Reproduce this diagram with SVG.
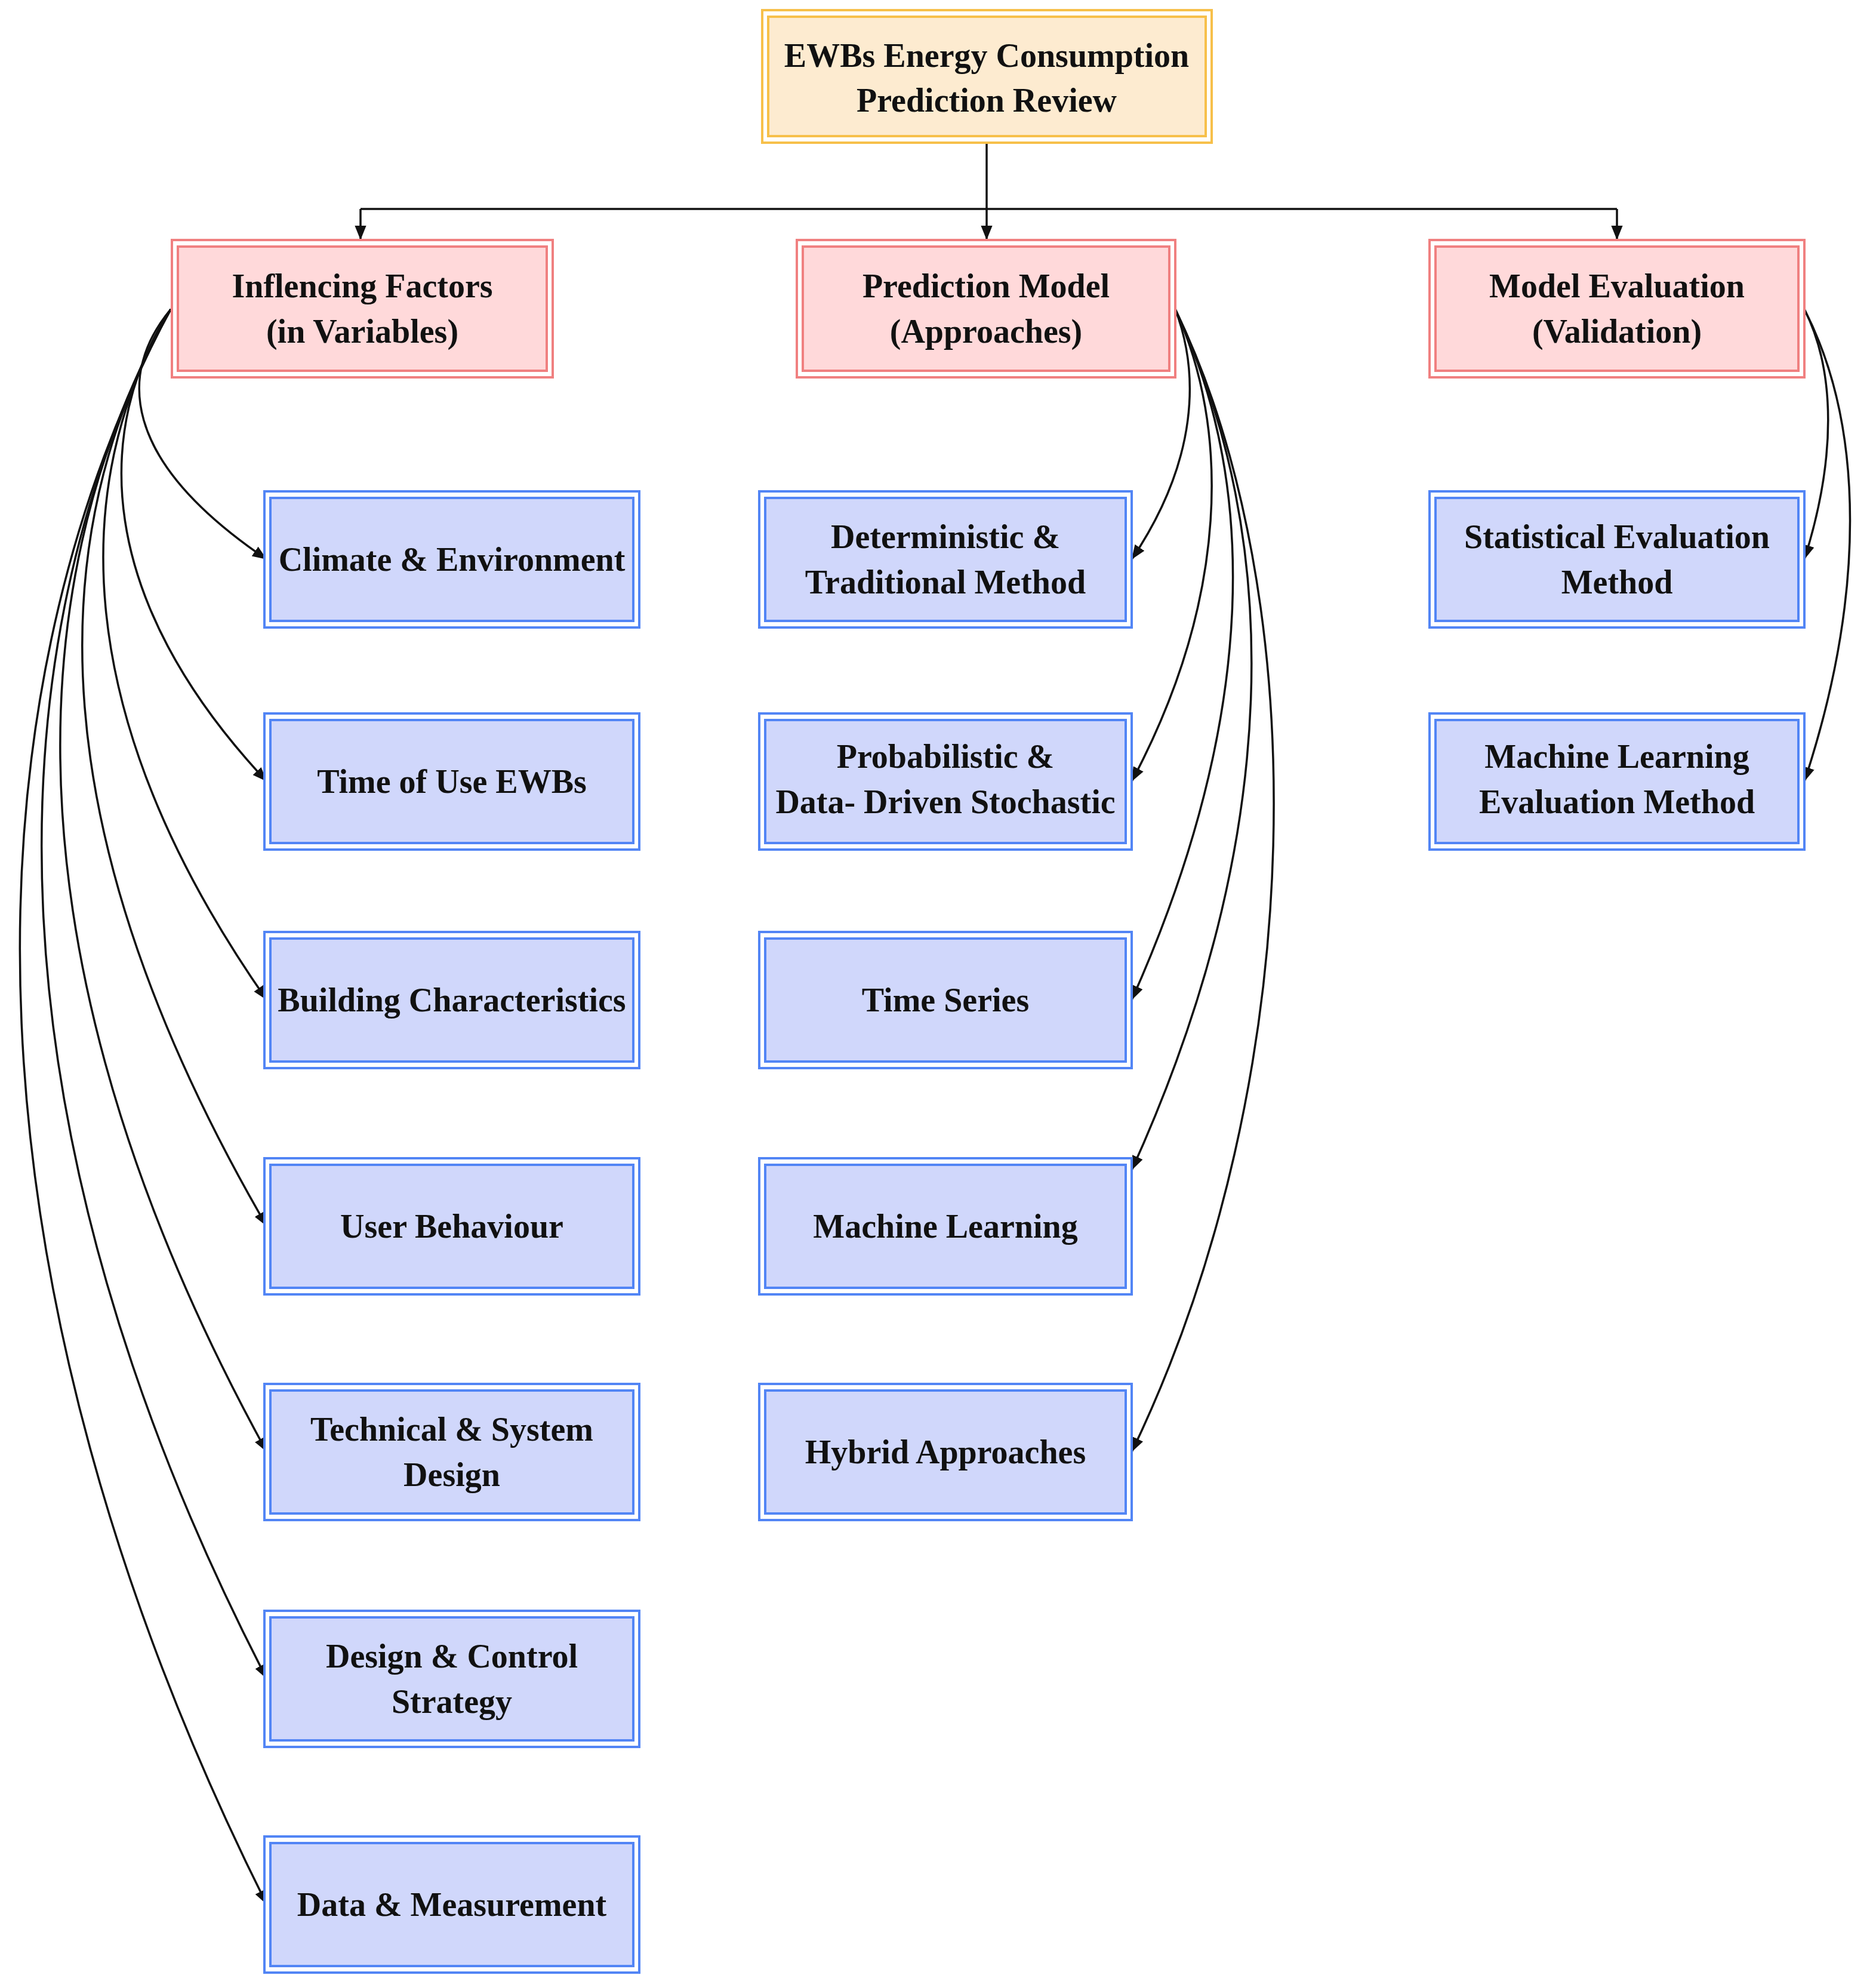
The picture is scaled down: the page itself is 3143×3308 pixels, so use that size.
<svg xmlns="http://www.w3.org/2000/svg" width="3143" height="3308" viewBox="0 0 3143 3308">
<style>
.t{font-family:"Liberation Serif",serif;font-weight:bold;font-size:56px;fill:#111;text-anchor:middle;dominant-baseline:central}
.o{fill:#fff;stroke-width:4}
.i{stroke-width:4}
.y .o,.y .i{stroke:#f7c04a}.y .i{fill:#fdebd0}
.r .o,.r .i{stroke:#f08080}.r .i{fill:#ffd9da}
.b .o,.b .i{stroke:#5285f5}.b .i{fill:#d0d7fb}
.c path{fill:none;stroke:#111;stroke-width:3.5}
</style>
<defs><marker id="a" viewBox="0 0 10 10" refX="10" refY="5" markerWidth="7" markerHeight="7" markerUnits="userSpaceOnUse" orient="auto"><path d="M0,0 L10,5 L0,10 z" fill="#111"/></marker>
<marker id="m" viewBox="0 0 10 10" refX="10" refY="5" markerWidth="24" markerHeight="24" markerUnits="userSpaceOnUse" orient="auto"><path d="M0,1 L10,5 L0,9 z" fill="#111"/></marker></defs>
<rect width="3143" height="3308" fill="#fff"/>
<g class="c">
<path d="M1653,239 V402" marker-end="url(#m)"/>
<path d="M604,350 H2709"/>
<path d="M604,350 V402" marker-end="url(#m)"/>
<path d="M2709,350 V402" marker-end="url(#m)"/>
<path d="M286,518 C199,623 199,769 447,937" marker-end="url(#m)"/>
<path d="M286,518 C157,716 157,1000 447,1309" marker-end="url(#m)"/>
<path d="M286,518 C115,808 115,1200 447,1675" marker-end="url(#m)"/>
<path d="M286,518 C67,900 67,1400 447,2054" marker-end="url(#m)"/>
<path d="M286,518 C17,994 17,1650 447,2432" marker-end="url(#m)"/>
<path d="M286,518 C-25,1090 -25,1900 447,2812" marker-end="url(#m)"/>
<path d="M286,518 C-74,1185 -74,2150 447,3190" marker-end="url(#m)"/>
<path d="M1969,518 C2009,623 2009,769 1896,937" marker-end="url(#m)"/>
<path d="M1969,518 C2060,716 2060,1000 1896,1309" marker-end="url(#m)"/>
<path d="M1969,518 C2108,808 2108,1200 1896,1675" marker-end="url(#m)"/>
<path d="M1969,518 C2150,900 2150,1400 1896,1960" marker-end="url(#m)"/>
<path d="M1969,518 C2200,994 2200,1800 1896,2432" marker-end="url(#m)"/>
<path d="M3023,518 C3076,623 3076,769 3023,937" marker-end="url(#m)"/>
<path d="M3023,518 C3125,716 3125,1000 3023,1309" marker-end="url(#m)"/>
</g>
<g id="root" class="y"><rect class="o" x="1277" y="17" width="753" height="222"/><rect class="i" x="1287" y="28" width="733" height="200"/><text class="t" x="1653" y="93">EWBs Energy Consumption</text><text class="t" x="1653" y="168">Prediction Review</text></g>
<g id="inf" class="r"><rect class="o" x="288" y="402" width="638" height="230"/><rect class="i" x="298" y="413" width="618" height="208"/><text class="t" x="607" y="479">Inflencing Factors</text><text class="t" x="607" y="555">(in Variables)</text></g>
<g id="pred" class="r"><rect class="o" x="1335" y="402" width="634" height="230"/><rect class="i" x="1345" y="413" width="614" height="208"/><text class="t" x="1652" y="479">Prediction Model</text><text class="t" x="1652" y="555">(Approaches)</text></g>
<g id="eval" class="r"><rect class="o" x="2395" y="402" width="628" height="230"/><rect class="i" x="2405" y="413" width="608" height="208"/><text class="t" x="2709" y="479">Model Evaluation</text><text class="t" x="2709" y="555">(Validation)</text></g>
<g id="climate" class="b"><rect class="o" x="443" y="823" width="628" height="228"/><rect class="i" x="453" y="834" width="608" height="206"/><text class="t" x="757" y="937">Climate &amp; Environment</text></g>
<g id="time" class="b"><rect class="o" x="443" y="1195" width="628" height="228"/><rect class="i" x="453" y="1206" width="608" height="206"/><text class="t" x="757" y="1309">Time of Use EWBs</text></g>
<g id="building" class="b"><rect class="o" x="443" y="1561" width="628" height="228"/><rect class="i" x="453" y="1572" width="608" height="206"/><text class="t" x="757" y="1675">Building Characteristics</text></g>
<g id="user" class="b"><rect class="o" x="443" y="1940" width="628" height="228"/><rect class="i" x="453" y="1951" width="608" height="206"/><text class="t" x="757" y="2054">User Behaviour</text></g>
<g id="tech" class="b"><rect class="o" x="443" y="2318" width="628" height="228"/><rect class="i" x="453" y="2329" width="608" height="206"/><text class="t" x="757" y="2394">Technical &amp; System</text><text class="t" x="757" y="2470">Design</text></g>
<g id="design" class="b"><rect class="o" x="443" y="2698" width="628" height="228"/><rect class="i" x="453" y="2709" width="608" height="206"/><text class="t" x="757" y="2774">Design &amp; Control</text><text class="t" x="757" y="2850">Strategy</text></g>
<g id="data" class="b"><rect class="o" x="443" y="3076" width="628" height="228"/><rect class="i" x="453" y="3087" width="608" height="206"/><text class="t" x="757" y="3190">Data &amp; Measurement</text></g>
<g id="det" class="b"><rect class="o" x="1272" y="823" width="624" height="228"/><rect class="i" x="1282" y="834" width="604" height="206"/><text class="t" x="1584" y="899">Deterministic &amp;</text><text class="t" x="1584" y="975">Traditional Method</text></g>
<g id="prob" class="b"><rect class="o" x="1272" y="1195" width="624" height="228"/><rect class="i" x="1282" y="1206" width="604" height="206"/><text class="t" x="1584" y="1267">Probabilistic &amp;</text><text class="t" x="1584" y="1343">Data- Driven Stochastic</text></g>
<g id="ts" class="b"><rect class="o" x="1272" y="1561" width="624" height="228"/><rect class="i" x="1282" y="1572" width="604" height="206"/><text class="t" x="1584" y="1675">Time Series</text></g>
<g id="ml" class="b"><rect class="o" x="1272" y="1940" width="624" height="228"/><rect class="i" x="1282" y="1951" width="604" height="206"/><text class="t" x="1584" y="2054">Machine Learning</text></g>
<g id="hyb" class="b"><rect class="o" x="1272" y="2318" width="624" height="228"/><rect class="i" x="1282" y="2329" width="604" height="206"/><text class="t" x="1584" y="2432">Hybrid Approaches</text></g>
<g id="stat" class="b"><rect class="o" x="2395" y="823" width="628" height="228"/><rect class="i" x="2405" y="834" width="608" height="206"/><text class="t" x="2709" y="899">Statistical Evaluation</text><text class="t" x="2709" y="975">Method</text></g>
<g id="mle" class="b"><rect class="o" x="2395" y="1195" width="628" height="228"/><rect class="i" x="2405" y="1206" width="608" height="206"/><text class="t" x="2709" y="1267">Machine Learning</text><text class="t" x="2709" y="1343">Evaluation Method</text></g>
</svg>
